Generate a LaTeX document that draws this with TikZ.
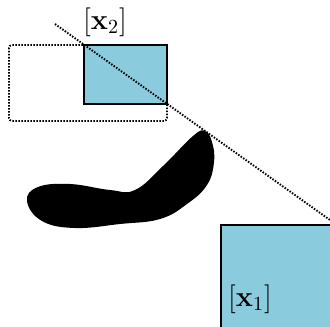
\documentclass[tikz,border=0pt]{standalone}
\usepackage{amsmath,amssymb}
\usepackage{tikz}
\usetikzlibrary{arrows.meta,calc}
\definecolor{boxblue}{RGB}{138,204,221}

\begin{document}
\begin{tikzpicture}[x=0.5pt,y=-0.5pt,
    blockbox/.style={draw,fill=boxblue,line width=0.9pt,inner sep=0pt},
    dotline/.style={line width=0.95pt,dash pattern=on 0.75pt off 0.75pt}]
  \clip (0,0) rectangle (330,326);
  \fill[white] (0,0) rectangle (330,326);
  \draw[dotline,rounded corners=1.5pt] (9,45) rectangle (167,121);
  \node[blockbox,minimum width=41.5pt,minimum height=29.5pt] (xtwo) at (125.5,74.5) {};
  \node[blockbox,minimum width=60pt,minimum height=60pt,anchor=north west] (xone) at (220,224) {};
  \node (labtwo) at (105,22) {\Large $[\mathbf{x}_2]$};
  \node (labone) at (250,299) {\Large $[\mathbf{x}_1]$};
  \coordinate (ltop) at (55,24);
  \coordinate (lbot) at (330,220);
  \draw[dotline] (ltop) -- (lbot);
  \fill[black] plot[smooth cycle,tension=0.7] coordinates {(27,201) (38,187) (70,184)
    (110,190) (135,190) (163,166) (193,136) (205,131) (212,142) (214,162) (207,185)
    (187,204) (160,219) (120,224) (75,228) (42,221)};
\end{tikzpicture}
\end{document}
